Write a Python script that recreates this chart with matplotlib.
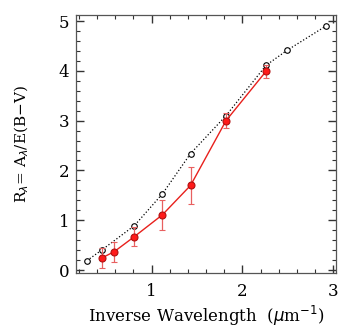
import matplotlib
matplotlib.use("Agg")
import matplotlib.pyplot as plt
from matplotlib.ticker import MultipleLocator

# Open symbols, dotted line (reference curve)
x_ref = [0.29, 0.45, 0.81, 1.12, 1.43, 1.82, 2.26, 2.49, 2.92]
r_ref = [0.19, 0.40, 0.89, 1.53, 2.34, 3.10, 4.11, 4.41, 4.90]

# Red measurements with error bars
x_obs = [0.45, 0.59, 0.81, 1.12, 1.43, 1.82, 2.26]
r_obs = [0.24, 0.37, 0.67, 1.11, 1.70, 3.00, 3.99]
r_err = [0.20, 0.20, 0.19, 0.30, 0.37, 0.15, 0.13]

plt.rcParams['font.family'] = 'DejaVu Serif'

fig = plt.figure(figsize=(3.46, 3.27), dpi=100)
ax = fig.add_axes([0.22, 0.165, 0.751, 0.789])

ax.plot(x_ref, r_ref, color='black', linestyle=':', linewidth=0.9,
        marker='o', markersize=4, markerfacecolor='white',
        markeredgecolor='black', markeredgewidth=0.8, zorder=2)

ax.errorbar(x_obs, r_obs, yerr=r_err, color='#e8201c', linewidth=1.0,
            marker='o', markersize=5, markerfacecolor='#ff1a1a',
            markeredgecolor='#b01010', markeredgewidth=0.8,
            ecolor='#e86060', elinewidth=0.9, capsize=2.5, capthick=0.9,
            zorder=3)

ax.set_xlim(0.17, 3.03)
ax.set_ylim(-0.06, 5.12)
ax.xaxis.set_major_locator(MultipleLocator(1))
ax.xaxis.set_minor_locator(MultipleLocator(0.2))
ax.yaxis.set_major_locator(MultipleLocator(1))
ax.yaxis.set_minor_locator(MultipleLocator(0.2))
ax.tick_params(which='both', direction='in', top=True, right=True,
               labelsize=12, color='#333333')
ax.tick_params(which='major', length=6, width=1)
ax.tick_params(which='minor', length=3, width=0.8)
ax.tick_params(axis='x', pad=7)
ax.tick_params(axis='y', pad=5)
for s in ax.spines.values():
    s.set_color('#555555')
    s.set_linewidth(0.9)

ax.set_xlabel(r'Inverse Wavelength  ($\mu$m$^{-1}$)', fontsize=12, labelpad=3)
ax.set_ylabel(r'R$_\lambda$= A$_\lambda$/E(B$-$V)', fontsize=11, labelpad=20)

fig.savefig('out.png', dpi=100)
